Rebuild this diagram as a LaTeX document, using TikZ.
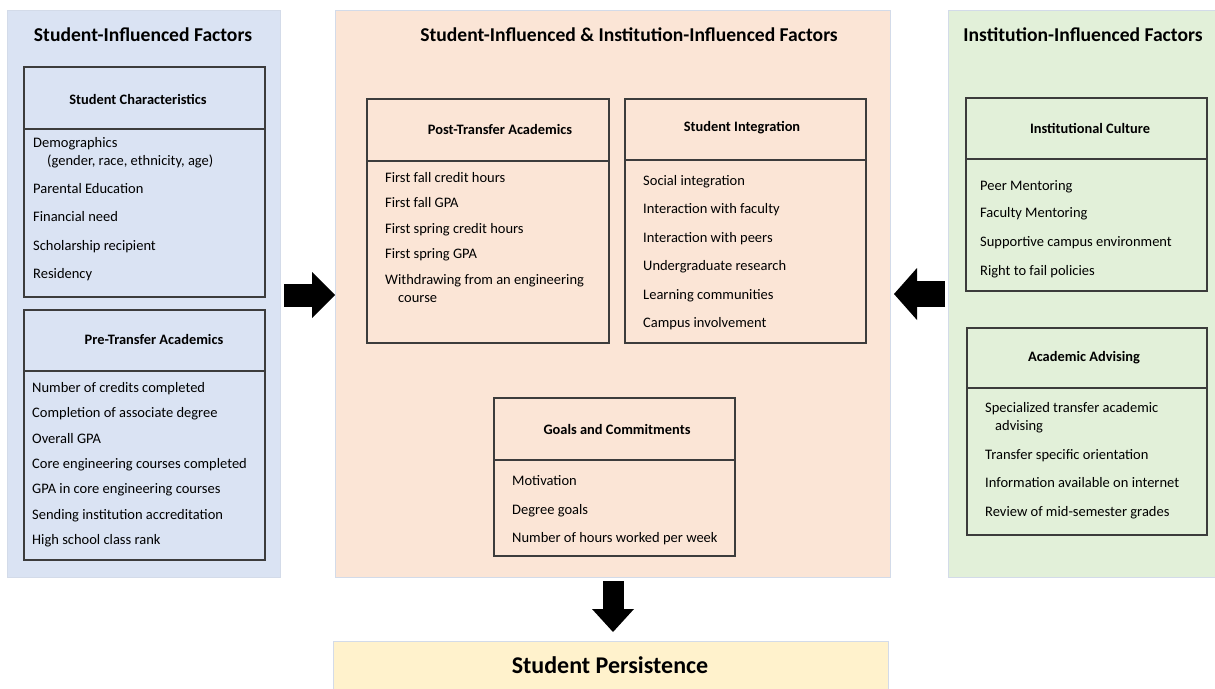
\documentclass[tikz,border=0pt]{standalone}
\usepackage{fontspec}
\setmainfont{Carlito}
\usepackage{tikz}
\usetikzlibrary{arrows.meta, positioning}
\definecolor{stuBlue}{HTML}{DAE3F3}
\definecolor{midPeach}{HTML}{FBE5D6}
\definecolor{instGreen}{HTML}{E2F0D9}
\definecolor{persYellow}{HTML}{FFF2CC}
\definecolor{edgeGray}{HTML}{D3DBE9}
\definecolor{boxGray}{HTML}{3C3C3C}

\begin{document}
\begin{tikzpicture}[x=1pt, y=-1pt,
    panel/.style={draw=edgeGray, line width=1pt, anchor=north west, inner sep=0pt},
    ttl/.style={font=\fontsize{19.6}{22}\selectfont\bfseries},
    hdr/.style={font=\fontsize{14.4}{16}\selectfont\bfseries},
    item/.style={anchor=west, inner sep=0pt, font=\fontsize{14.5}{17}\selectfont, text height=12pt, text depth=3.5pt},
    blockarrow/.style={line width=#1, -{Triangle[width=2*#1, length=23pt, line width=0pt]}},
    boxline/.style={draw=boxGray, line width=1.2pt}]
    \useasboundingbox (0,0) rectangle (1215,688);

    % the three panels and the outcome bar
    \node[panel, fill=stuBlue, minimum width=273, minimum height=567] (left) at (7,10) {};
    \node[panel, fill=midPeach, minimum width=555, minimum height=567] (mid) at (335,10) {};
    \node[panel, fill=instGreen, minimum width=270, minimum height=567] (right) at (948,10) {};
    \node[panel, fill=persYellow, minimum width=555, minimum height=60] (pers) at (333,641) {};

    \node[ttl] (lefttitle) at (143,35) {Student-Influenced Factors};
    \node[ttl] (midtitle) at (629,35) {Student-Influenced \& Institution-Influenced Factors};
    \node[ttl] (righttitle) at (1083,35) {Institution-Influenced Factors};
    \node[font=\fontsize{24}{28}\selectfont\bfseries] (perstext) at (610,665) {Student Persistence};

    % Student Characteristics
    \path[boxline] (24,67) rectangle (265,297)
                   (24,129) -- (265,129);
    \node[hdr] (charhdr) at (138,99) {Student Characteristics};
    \node[item] (demo) at (33,143) {Demographics};
    \node[item] (demo2) at (47,161) {(gender, race, ethnicity, age)};
    \node[item] (parent) at (33,189) {Parental Education};
    \node[item] (finance) at (33,217) {Financial need};
    \node[item] (scholar) at (33,246) {Scholarship recipient};
    \node[item] (resid) at (33,274) {Residency};

    % Pre-Transfer Academics
    \path[boxline] (24,310) rectangle (265,560)
                   (24,371) -- (265,371);
    \node[hdr] (prehdr) at (154,339) {Pre-Transfer Academics};
    \node[item] (credits) at (32,388) {Number of credits completed};
    \node[item] (assoc) at (32,413) {Completion of associate degree};
    \node[item] (overall) at (32,439) {Overall GPA};
    \node[item] (core) at (32,464) {Core engineering courses completed};
    \node[item] (coregpa) at (32,489) {GPA in core engineering courses};
    \node[item] (accred) at (32,515) {Sending institution accreditation};
    \node[item] (rank) at (32,540) {High school class rank};

    % Post-Transfer Academics
    \path[boxline] (367,99) rectangle (609,343)
                   (367,161) -- (609,161);
    \node[hdr] (posthdr) at (500,129) {Post-Transfer Academics};
    \node[item] (fallcr) at (385,178) {First fall credit hours};
    \node[item] (fallgpa) at (385,203) {First fall GPA};
    \node[item] (springcr) at (385,229) {First spring credit hours};
    \node[item] (springgpa) at (385,254) {First spring GPA};
    \node[item] (withdraw) at (385,280) {Withdrawing from an engineering};
    \node[item] (withdraw2) at (398,298) {course};

    % Student Integration
    \path[boxline] (625,99) rectangle (866,343)
                   (625,160) -- (866,160);
    \node[hdr] (integhdr) at (742,128) {Student Integration};
    \node[item] (social) at (643,181) {Social integration};
    \node[item] (faculty) at (643,209) {Interaction with faculty};
    \node[item] (peers) at (643,238) {Interaction with peers};
    \node[item] (research) at (643,266) {Undergraduate research};
    \node[item] (learncom) at (643,295) {Learning communities};
    \node[item] (campus) at (643,323) {Campus involvement};

    % Goals and Commitments
    \path[boxline] (494,398) rectangle (735,556)
                   (494,460) -- (735,460);
    \node[hdr] (goalhdr) at (617,429) {Goals and Commitments};
    \node[item] (motiv) at (512,481) {Motivation};
    \node[item] (degree) at (512,510) {Degree goals};
    \node[item] (hours) at (512,538) {Number of hours worked per week};

    % Institutional Culture
    \path[boxline] (966,98) rectangle (1207,291)
                   (966,159) -- (1207,159);
    \node[hdr] (culthdr) at (1090,128) {Institutional Culture};
    \node[item] (peerment) at (980,186) {Peer Mentoring};
    \node[item] (facment) at (980,213) {Faculty Mentoring};
    \node[item] (support) at (980,242) {Supportive campus environment};
    \node[item] (fail) at (980,271) {Right to fail policies};

    % Academic Advising
    \path[boxline] (967,328) rectangle (1207,535)
                   (967,388) -- (1207,388);
    \node[hdr] (advhdr) at (1084,358) {Academic Advising};
    \node[item] (special) at (985,408) {Specialized transfer academic};
    \node[item] (special2) at (995,426) {advising};
    \node[item] (orient) at (985,455) {Transfer specific orientation};
    \node[item] (internet) at (985,483) {Information available on internet};
    \node[item] (midsem) at (985,512) {Review of mid-semester grades};

    % block arrows
    \draw[blockarrow=23pt] ([xshift=3pt]left.east |- 0,295) -- (mid.west |- 0,295);
    \draw[blockarrow=26pt] ([xshift=-3pt]right.west |- 0,294) -- ([xshift=3pt]mid.east |- 0,294);
    \draw[blockarrow=21pt] ([yshift=-3pt]mid.south -| 613,0) -- ([yshift=9pt]pers.north -| 613,0);
\end{tikzpicture}
\end{document}
